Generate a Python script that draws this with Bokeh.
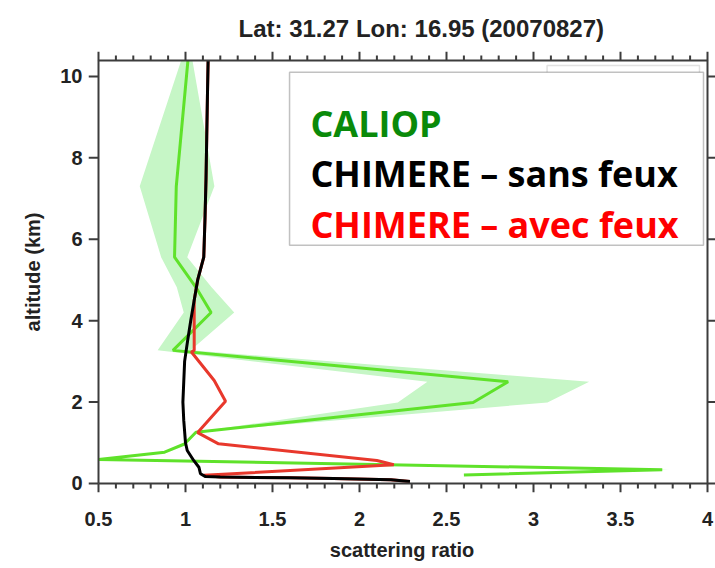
from bokeh.plotting import figure
from bokeh.models import (Range1d, SingleIntervalTicker, NumeralTickFormatter,
                          BoxAnnotation, Label, Title)
from bokeh.embed import file_html
from bokeh.resources import INLINE

# CALIOP scattering-ratio profile (altitude in km) with its uncertainty envelope
caliop_alt = [10.39, 7.3, 5.56, 4.82, 4.2, 3.27, 2.5, 1.99, 1.26, 0.97, 0.77, 0.59, 0.34, 0.21]
caliop_val = [1.014, 0.947, 0.937, 1.06, 1.147, 0.928, 2.854, 2.653, 1.06, 0.994, 0.88, 0.50, 3.74, 2.60]
caliop_lo = [0.975, 0.737, 0.86, 0.95, 0.99, 0.84, 2.39, 2.22, 1.06, 0.99, 0.88, 0.50, 3.68, 2.58]
caliop_hi = [1.04, 1.166, 1.01, 1.15, 1.28, 1.03, 3.32, 3.08, 1.06, 1.00, 0.88, 0.50, 3.78, 2.62]

# CHIMERE without fires
sans_alt = [0.05, 0.09, 0.12, 0.14, 0.16, 0.17, 0.24, 0.40, 0.56, 0.81, 1.0, 1.55, 2.0, 2.5,
            3.0, 3.27, 3.5, 4.0, 4.5, 5.0, 5.56, 6.5, 7.5, 8.5, 9.5, 10.39]
sans_val = [2.29, 2.18, 1.85, 1.60, 1.20, 1.115, 1.086, 1.077, 1.048, 1.01, 1.0, 0.99, 0.985, 0.99,
            0.995, 1.004, 1.012, 1.03, 1.05, 1.07, 1.105, 1.112, 1.118, 1.122, 1.126, 1.13]

# CHIMERE with fires
avec_alt = [0.05, 0.09, 0.12, 0.14, 0.16, 0.20, 0.46, 0.565, 0.975, 1.25, 2.02, 2.53, 3.23, 3.27,
            4.5, 5.0, 5.56, 6.5, 7.5, 8.5, 9.5, 10.39]
avec_val = [2.29, 2.18, 1.85, 1.60, 1.20, 1.105, 2.197, 2.10, 1.19, 1.07, 1.23, 1.165, 1.034, 1.05,
            1.05, 1.07, 1.105, 1.112, 1.118, 1.122, 1.126, 1.13]

x_major = [0.5, 1.0, 1.5, 2.0, 2.5, 3.0, 3.5, 4.0]
y_major = [0, 2, 4, 6, 8, 10]
title_text = "Lat: 31.27 Lon: 16.95 (20070827)"
x_label = "scattering ratio"
y_label = "altitude (km)"
legend_texts = ["CALIOP", "CHIMERE \u2013 sans feux", "CHIMERE \u2013 avec feux"]
legend_colors = ["#0a8a0a", "#000000", "#ff0000"]

# plotting box (data limits) and its pixel scale
X_MIN, X_MAX = 0.5, 4.0
Y_MIN, Y_MAX = 0.0, 10.39
PX_X = 174.0   # pixels per unit of scattering ratio
PX_Y = 40.71   # pixels per km
dx, dy = 1.0 / PX_X, 1.0 / PX_Y

AX_FONT = "Liberation Sans"
AX_COLOR = "#3c3c3c"
LBL_COLOR = "#222222"

# the frame reaches out to the tick ends, so ticks are drawn as glyphs
p = figure(width=715, height=568, output_backend="svg", toolbar_location=None,
           x_range=Range1d(X_MIN - 10 * dx, X_MAX + 8 * dx),
           y_range=Range1d(Y_MIN - 9 * dy, Y_MAX + 9 * dy),
           min_border_left=88, min_border_right=0, min_border_top=51, min_border_bottom=76)
p.grid.visible = False
p.outline_line_color = None

# tick numbers on the frame edges (no rule, no tick marks)
def numbers_only(ax, ticker, standoff):
    ax.ticker = ticker
    ax.axis_line_color = None
    ax.major_tick_line_color = None
    ax.minor_tick_line_color = None
    ax.major_tick_in = ax.major_tick_out = 0
    ax.minor_tick_in = ax.minor_tick_out = 0
    ax.major_label_standoff = standoff
    ax.major_label_text_font = AX_FONT
    ax.major_label_text_font_style = "bold"
    ax.major_label_text_font_size = "20px"
    ax.major_label_text_color = LBL_COLOR

numbers_only(p.xaxis[0], SingleIntervalTicker(interval=0.5, num_minor_ticks=0), 19)
p.xaxis[0].formatter = NumeralTickFormatter(format="0.[0]")
numbers_only(p.yaxis[0], SingleIntervalTicker(interval=2, num_minor_ticks=0), 6)

p.add_layout(Title(text=x_label, align="center", text_font=AX_FONT, text_font_style="bold",
                   text_font_size="20px", text_color=LBL_COLOR, standoff=16), "below")
p.add_layout(Title(text=y_label, align="center", text_font=AX_FONT, text_font_style="bold",
                   text_font_size="20px", text_color=LBL_COLOR, standoff=28), "left")

p.title.text = title_text
p.title.text_font = AX_FONT
p.title.text_font_style = "bold"
p.title.text_font_size = "24px"
p.title.text_color = LBL_COLOR
p.title.align = "left"
p.title.offset = 150
p.title.standoff = 20

# profiles
p.harea(x1=caliop_lo, x2=caliop_hi, y=caliop_alt, fill_color="#c6f6c6", fill_alpha=1.0)
p.line(caliop_val, caliop_alt, line_color="#5fe22a", line_width=3)
p.line(avec_val, avec_alt, line_color="#e8382c", line_width=3)
p.line(sans_val, sans_alt, line_color="#000000", line_width=3)

# box and outward tick marks
x_minor = [round(X_MIN + 0.1 * i, 2) for i in range(36)]
x_minor = [v for v in x_minor if all(abs(v - m) > 1e-6 for m in x_major)]

seg_x0, seg_y0, seg_x1, seg_y1 = [], [], [], []
def add_seg(a, b, c, d):
    seg_x0.append(a); seg_y0.append(b); seg_x1.append(c); seg_y1.append(d)

for xv in x_major:
    add_seg(xv, Y_MIN, xv, Y_MIN - 9 * dy)
    add_seg(xv, Y_MAX, xv, Y_MAX + 9 * dy)
for xv in x_minor:
    add_seg(xv, Y_MIN, xv, Y_MIN - 5 * dy)
    add_seg(xv, Y_MAX, xv, Y_MAX + 5 * dy)
for yv in y_major:
    add_seg(X_MIN, yv, X_MIN - 10 * dx, yv)
    add_seg(X_MAX, yv, X_MAX + 8 * dx, yv)
p.segment(x0=seg_x0, y0=seg_y0, x1=seg_x1, y1=seg_y1, line_color=AX_COLOR, line_width=2)
p.line([X_MIN, X_MAX, X_MAX, X_MIN, X_MIN], [Y_MIN, Y_MIN, Y_MAX, Y_MAX, Y_MIN],
       line_color=AX_COLOR, line_width=2)

# legend panel
p.add_layout(BoxAnnotation(left=3.078, right=3.954, top=10.27, bottom=9.6,
                           fill_color="white", fill_alpha=1.0,
                           line_color="#9a9a9a", line_width=1.5))
p.add_layout(BoxAnnotation(left=1.598, right=3.977, top=10.10, bottom=5.85,
                           fill_color="white", fill_alpha=1.0,
                           line_color="#333333", line_width=1.5))
legend_y = [8.845, 7.617, 6.364]
for txt, col, yy in zip(legend_texts, legend_colors, legend_y):
    p.add_layout(Label(x=1.718, y=yy, text=txt, text_color=col,
                       text_font="Open Sans", text_font_style="bold",
                       text_font_size="36px", text_baseline="alphabetic"))

open("out.html", "w").write(file_html(p, INLINE))
